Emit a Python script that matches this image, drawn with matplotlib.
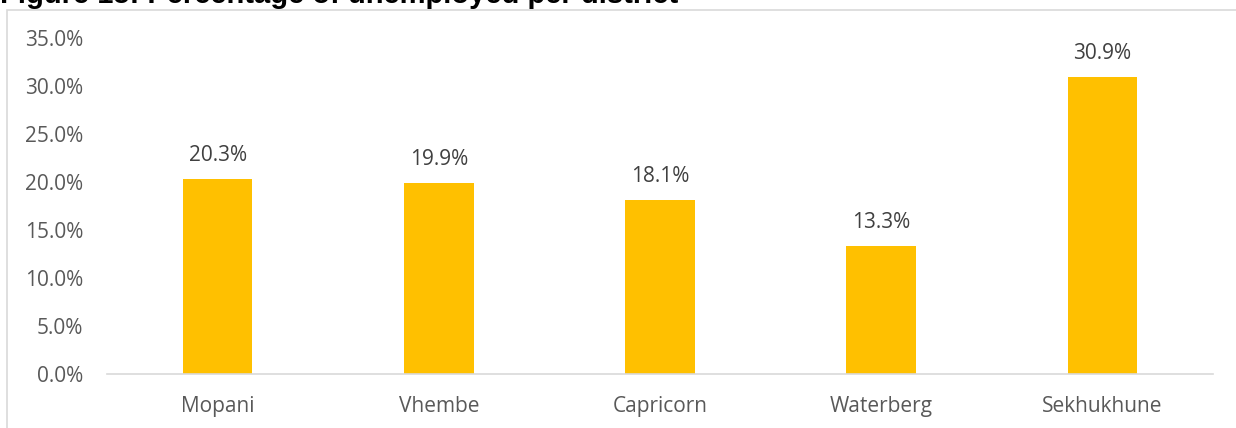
import matplotlib
matplotlib.use("Agg")
import matplotlib.pyplot as plt
from matplotlib.patches import Rectangle

districts = ["Mopani", "Vhembe", "Capricorn", "Waterberg", "Sekhukhune"]
unemployed = [20.3, 19.9, 18.1, 13.3, 30.9]
yticks = [0, 5, 10, 15, 20, 25, 30, 35]

W, H = 1236, 428
fig = plt.figure(figsize=(W / 100, H / 100), dpi=100)
plt.rcParams['font.family'] = ['Open Sans', 'DejaVu Sans']

# chart frame (cut off at right and bottom)
fig.patches.append(Rectangle((7 / W, 0 - 0.01), 1.2, (H - 10) / H + 0.01, transform=fig.transFigure,
                             fill=False, edgecolor='#d9d9d9', linewidth=1.2, clip_on=False))

# cropped title
fig.text(0, 1 - 3 / H, "Figure 15: Percentage of unemployed per district", fontsize=21,
         fontweight='bold', family='Liberation Sans', va='baseline', ha='left', color='black')

ax = fig.add_axes([107 / W, (H - 374) / H, (1213 - 107) / W, (374 - 38) / H])
x = range(len(districts))
ax.bar(x, unemployed, width=0.315, color='#ffc000', zorder=2)
for xi, v in zip(x, unemployed):
    ax.text(xi, v + 1.4, f"{v:.1f}%", ha='center', va='bottom', fontsize=15, color='#404040')

ax.set_xlim(-0.5, len(districts) - 0.5)
ax.set_ylim(0, 35)
ax.set_yticks(yticks)
ax.set_yticklabels([f"{t:.1f}%" for t in yticks])
ax.set_xticks(list(x))
ax.set_xticklabels(districts)
ax.tick_params(axis='both', length=0, labelsize=15, labelcolor='#595959')
ax.tick_params(axis='y', pad=17)
ax.tick_params(axis='x', pad=16)
for s in ['top', 'right', 'left']:
    ax.spines[s].set_visible(False)
ax.spines['bottom'].set_color('#d9d9d9')
ax.spines['bottom'].set_linewidth(1.2)

fig.savefig("out.png", dpi=100)
